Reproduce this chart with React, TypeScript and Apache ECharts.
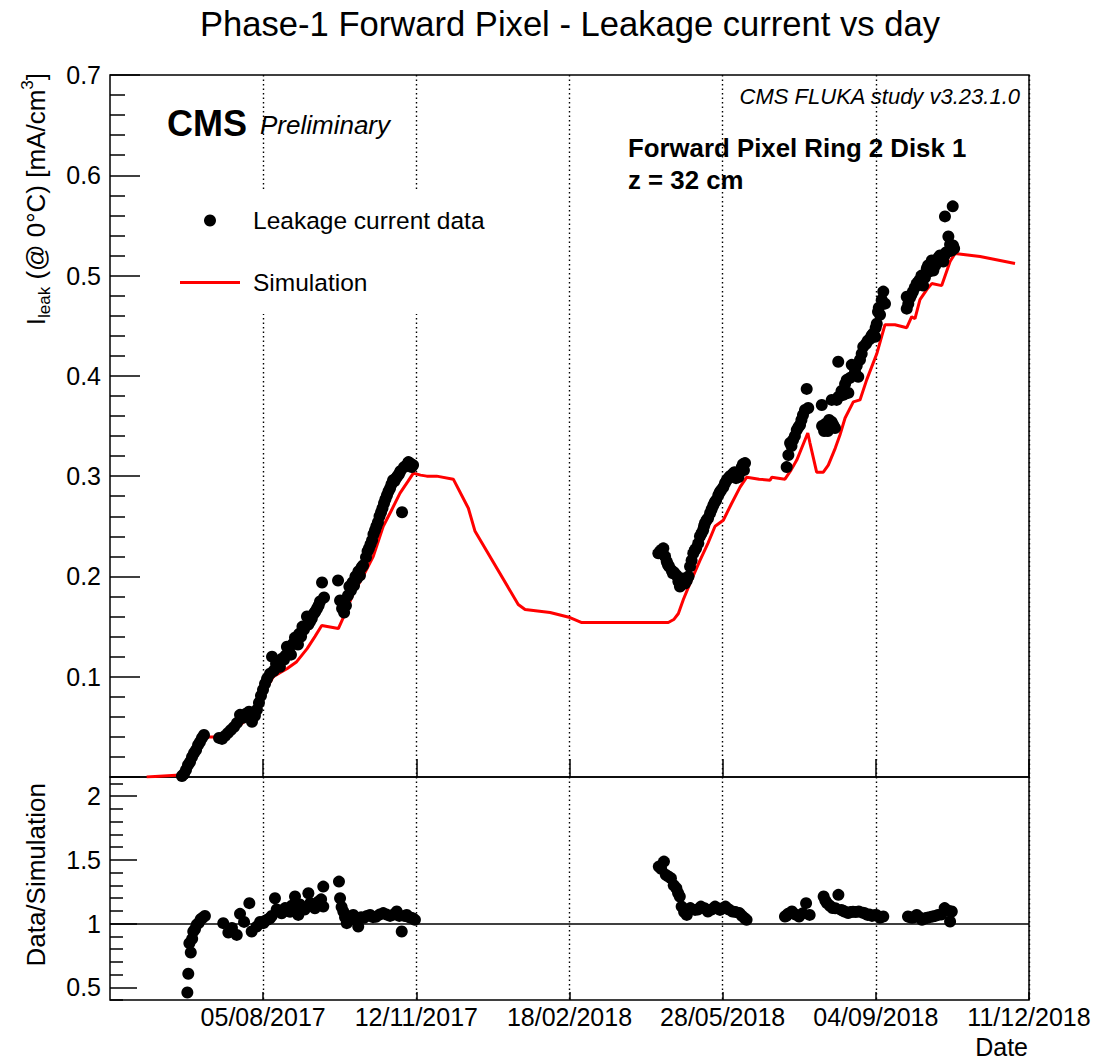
import React, { useEffect, useRef } from "react";
import * as echarts from "echarts";

const FONT = "'Liberation Sans', Arial, Helvetica, sans-serif";

// x values: days since 2017-01-01
const xMinDay = 118.1;
const xMaxDay = 709.7;
const xTickDays = [216.7, 315.3, 413.9, 512.5, 611.1, 709.7];
const xTickLabels = ["05/08/2017", "12/11/2017", "18/02/2018", "28/05/2018", "04/09/2018", "11/12/2018"];

const ratioMajorTicks = [0.5, 1, 1.5, 2];
const ratioMinorTicks = [0.4, 0.6, 0.7, 0.8, 0.9, 1.1, 1.2, 1.3, 1.4, 1.6, 1.7, 1.8, 1.9, 2.1];

const simulation: [number, number][] = [
  [141.7, 0.0], [163.2, 0.002], [166.0, 0.005], [170.0, 0.014], [174.0, 0.026], [178.6, 0.04],
  [187.6, 0.04], [190.0, 0.041], [196.0, 0.045], [202.0, 0.052], [208.0, 0.06], [213.0, 0.068],
  [218.0, 0.086], [223.2, 0.1], [227.5, 0.104], [232.0, 0.108], [238.3, 0.115], [245.0, 0.128],
  [250.0, 0.14], [254.4, 0.151], [265.1, 0.148], [270.0, 0.165], [274.7, 0.183], [281.0, 0.2],
  [287.6, 0.22], [294.0, 0.25], [299.0, 0.265], [304.8, 0.283], [310.0, 0.295], [313.4, 0.303],
  [318.0, 0.301], [322.0, 0.3], [328.4, 0.3], [339.1, 0.297], [348.8, 0.268], [353.1, 0.245],
  [380.9, 0.172], [385.3, 0.167], [401.4, 0.164], [414.2, 0.159], [421.8, 0.154], [477.5, 0.154],
  [481.0, 0.157], [484.0, 0.163], [487.2, 0.177], [492.0, 0.195], [497.9, 0.216], [503.0, 0.233],
  [507.6, 0.25], [512.9, 0.256], [518.0, 0.272], [523.7, 0.289], [528.0, 0.299], [536.0, 0.297],
  [543.0, 0.296], [544.1, 0.299], [552.6, 0.297], [556.5, 0.306], [560.2, 0.316], [567.3, 0.343],
  [568.7, 0.333], [573.0, 0.304], [577.3, 0.304], [580.5, 0.311], [585.0, 0.328], [588.0, 0.341],
  [591.3, 0.358], [596.6, 0.374], [600.9, 0.376], [605.2, 0.396], [611.7, 0.422], [617.0, 0.451],
  [623.4, 0.451], [631.0, 0.448], [634.2, 0.459], [636.3, 0.457], [639.5, 0.476], [643.9, 0.486],
  [647.1, 0.492], [653.5, 0.49], [658.9, 0.514], [662.1, 0.522], [678.2, 0.519], [700.7, 0.512],
];

const leakage2017: [number, number][] = [
  [164.4, 0.001], [165.7, 0.003], [167.0, 0.007], [168.3, 0.012], [169.6, 0.015], [170.9, 0.02],
  [172.2, 0.024], [173.5, 0.027], [174.8, 0.032], [176.0, 0.035], [177.3, 0.039], [178.6, 0.042],
  [188.3, 0.039], [190.2, 0.038], [192.1, 0.041], [194.1, 0.044], [196.0, 0.047], [198.0, 0.05],
  [199.9, 0.054], [201.8, 0.062], [203.7, 0.059], [205.7, 0.063], [207.6, 0.065], [209.5, 0.055],
  [211.4, 0.061], [212.7, 0.067], [214.0, 0.074], [215.3, 0.081], [216.6, 0.087], [217.9, 0.093],
  [219.2, 0.098], [221.1, 0.103], [222.4, 0.12], [225.0, 0.113], [227.5, 0.11], [230.1, 0.117],
  [232.0, 0.13], [234.6, 0.122], [237.2, 0.139], [239.1, 0.132], [241.1, 0.14], [243.0, 0.147],
  [244.9, 0.16], [246.9, 0.155], [249.4, 0.163], [251.4, 0.168], [253.3, 0.175], [254.6, 0.194],
  [255.9, 0.179], [264.9, 0.196], [266.2, 0.176], [267.5, 0.168], [268.8, 0.164], [270.0, 0.171],
  [271.3, 0.181], [273.2, 0.186], [275.2, 0.191], [277.1, 0.198], [279.0, 0.201], [281.0, 0.211],
  [282.9, 0.219], [284.8, 0.228], [286.8, 0.236], [288.7, 0.246], [290.6, 0.254], [292.6, 0.264],
  [294.5, 0.273], [296.4, 0.281], [298.4, 0.288], [300.3, 0.296], [302.2, 0.298], [304.1, 0.302],
  [306.1, 0.264], [307.4, 0.309], [309.3, 0.311], [311.2, 0.313], [313.2, 0.311],
  [223.5, 0.106], [226.2, 0.112], [228.8, 0.118], [231.0, 0.121], [233.3, 0.127], [236.0, 0.133],
  [238.2, 0.136], [240.0, 0.143], [242.0, 0.15], [245.8, 0.152], [248.0, 0.158], [250.3, 0.165],
  [252.4, 0.171], [272.2, 0.19], [274.2, 0.194], [276.1, 0.2], [278.0, 0.205], [280.0, 0.209],
  [283.9, 0.225], [285.8, 0.232], [287.7, 0.242], [289.6, 0.25], [291.6, 0.26], [293.5, 0.268],
  [295.4, 0.277], [297.4, 0.285], [299.3, 0.292], [301.2, 0.295], [303.1, 0.3], [305.0, 0.305],
  [308.4, 0.31], [310.2, 0.314], [312.3, 0.309],
];

const leakage2018: [number, number][] = [
  [471.1, 0.223], [474.3, 0.228], [476.5, 0.215], [478.0, 0.21], [479.7, 0.206], [481.2, 0.204],
  [482.9, 0.201], [485.0, 0.19], [487.0, 0.198], [489.4, 0.196], [491.5, 0.21], [493.6, 0.223],
  [495.4, 0.228], [496.8, 0.233], [497.9, 0.24], [499.9, 0.246], [501.1, 0.253], [503.1, 0.258],
  [504.4, 0.263], [506.5, 0.271], [508.3, 0.276], [509.7, 0.281], [511.5, 0.286], [512.9, 0.289],
  [515.1, 0.296], [517.2, 0.3], [519.4, 0.303], [521.1, 0.298], [522.6, 0.299], [524.8, 0.309],
  [526.2, 0.306], [526.9, 0.313],
  [472.7, 0.226], [475.4, 0.22], [477.2, 0.212], [480.5, 0.203], [484.0, 0.195], [486.0, 0.193],
  [488.2, 0.193], [490.5, 0.2], [492.5, 0.216], [494.5, 0.226], [498.9, 0.243], [500.5, 0.25],
  [502.1, 0.256], [505.4, 0.267], [507.4, 0.274], [510.6, 0.284], [514.0, 0.293], [516.1, 0.298],
  [518.3, 0.301], [520.2, 0.304], [523.7, 0.304], [525.6, 0.312],
  [553.7, 0.309], [554.8, 0.321], [555.9, 0.333], [557.8, 0.336], [560.2, 0.346], [562.3, 0.351],
  [564.2, 0.361], [565.5, 0.366], [566.6, 0.387], [567.6, 0.368], [576.3, 0.371], [576.5, 0.35],
  [577.8, 0.345], [579.5, 0.349], [581.0, 0.356], [582.7, 0.354], [582.7, 0.376], [584.8, 0.348],
  [585.9, 0.376], [586.9, 0.414], [586.9, 0.379], [590.2, 0.381], [592.4, 0.396], [593.4, 0.383],
  [595.6, 0.411], [597.7, 0.404], [599.8, 0.399], [600.9, 0.416], [603.0, 0.429], [604.8, 0.432],
  [607.4, 0.437], [609.3, 0.442], [610.6, 0.439], [611.7, 0.452], [612.5, 0.464], [613.8, 0.461],
  [614.9, 0.476], [615.9, 0.484], [617.0, 0.472],
  [556.8, 0.33], [559.0, 0.34], [561.3, 0.349], [563.2, 0.356], [578.6, 0.352], [580.2, 0.345],
  [583.7, 0.351], [589.0, 0.385], [591.3, 0.392], [594.5, 0.398], [598.8, 0.41], [602.0, 0.422],
  [605.9, 0.435], [608.3, 0.44], [611.0, 0.448], [613.0, 0.468],
  [631.0, 0.479], [631.0, 0.467], [633.1, 0.478], [635.0, 0.484], [637.4, 0.492], [639.5, 0.496],
  [641.5, 0.49], [643.9, 0.507], [645.4, 0.504], [647.1, 0.515], [648.1, 0.505], [650.5, 0.513],
  [652.4, 0.52], [654.5, 0.514], [656.3, 0.523], [657.8, 0.524], [657.8, 0.539], [655.6, 0.559],
  [658.9, 0.531], [659.9, 0.525], [660.6, 0.569], [661.5, 0.527],
  [632.0, 0.472], [634.0, 0.481], [636.2, 0.488], [638.5, 0.494], [640.5, 0.5], [642.7, 0.498],
  [644.7, 0.51], [646.3, 0.511], [649.3, 0.51], [651.4, 0.518], [653.4, 0.517], [655.3, 0.52],
  [660.8, 0.53],
];

const ratio2017: [number, number][] = [
  [167.9, 0.459], [168.5, 0.606], [169.2, 0.846], [170.1, 0.773], [171.0, 0.88], [171.7, 0.937],
  [172.8, 0.955], [173.9, 0.99], [175.2, 1.005], [176.5, 1.034], [177.8, 1.045], [179.2, 1.06],
  [191.0, 1.003], [194.3, 0.929], [196.6, 0.966], [199.7, 0.911], [201.8, 1.076], [204.4, 1.013],
  [207.8, 1.16], [209.3, 0.937], [212.5, 0.976], [214.7, 1.013], [216.8, 1.003], [219.2, 1.029],
  [221.1, 1.042], [224.3, 1.199], [227.5, 1.094], [230.8, 1.121], [234.0, 1.092], [237.2, 1.212],
  [239.3, 1.068], [242.3, 1.123], [245.8, 1.238], [249.0, 1.133], [252.0, 1.17], [255.4, 1.29],
  [255.4, 1.133], [265.5, 1.329], [266.2, 1.199], [268.3, 1.094], [270.5, 1.003], [272.6, 1.045],
  [274.7, 1.068], [277.9, 0.976], [281.6, 1.045], [285.5, 1.068], [289.3, 1.053], [294.0, 1.082],
  [298.4, 1.06], [302.7, 1.094], [305.9, 0.937], [309.1, 1.068], [311.9, 1.045], [314.4, 1.029],
  [217.8, 1.02], [220.1, 1.035], [222.2, 1.06], [225.4, 1.11], [228.6, 1.08], [231.9, 1.1],
  [235.1, 1.14], [238.2, 1.1], [240.3, 1.15], [243.4, 1.11], [247.0, 1.16], [250.0, 1.12],
  [253.1, 1.15], [254.0, 1.19], [267.2, 1.13], [269.4, 1.05], [271.5, 1.02], [273.6, 1.06],
  [276.0, 1.03], [279.8, 1.05], [283.5, 1.06], [287.4, 1.05], [291.6, 1.07], [296.2, 1.07],
  [300.5, 1.07], [304.3, 1.06], [307.5, 1.06], [310.5, 1.05], [313.2, 1.04],
];

const ratio2018: [number, number][] = [
  [471.4, 1.447], [474.7, 1.486], [475.9, 1.382], [479.2, 1.356], [482.7, 1.277], [484.9, 1.212],
  [486.1, 1.133], [489.4, 1.068], [491.7, 1.121], [494.7, 1.107], [498.5, 1.133], [503.0, 1.094],
  [507.6, 1.133], [510.8, 1.107], [514.3, 1.133], [518.8, 1.094], [523.3, 1.082], [526.7, 1.042],
  [527.9, 1.029], [552.6, 1.055], [554.5, 1.076], [557.1, 1.094], [561.7, 1.055], [566.2, 1.16],
  [568.5, 1.068], [577.5, 1.212], [579.7, 1.16], [583.2, 1.121], [587.0, 1.225], [588.8, 1.107],
  [591.3, 1.092], [593.3, 1.082], [596.4, 1.092], [600.1, 1.094], [602.8, 1.084], [605.7, 1.068],
  [608.6, 1.06], [611.4, 1.068], [613.8, 1.045], [615.9, 1.055], [631.8, 1.055], [634.4, 1.045],
  [637.4, 1.068], [640.8, 1.029], [644.1, 1.045], [647.6, 1.055], [651.1, 1.068], [655.4, 1.121],
  [660.0, 1.094], [658.9, 1.016],
  [472.9, 1.43], [477.5, 1.37], [481.0, 1.3], [483.8, 1.24], [487.7, 1.09], [496.5, 1.11],
  [500.8, 1.12], [505.3, 1.11], [509.2, 1.12], [512.5, 1.12], [516.5, 1.11], [520.9, 1.09],
  [525.0, 1.06], [553.5, 1.06], [555.8, 1.08], [559.4, 1.07], [564.0, 1.08], [578.6, 1.18],
  [581.5, 1.14], [585.0, 1.12], [590.0, 1.1], [594.8, 1.09], [598.2, 1.09], [604.2, 1.08],
  [607.1, 1.07], [610.0, 1.065], [632.9, 1.05], [636.0, 1.05], [639.0, 1.05], [642.5, 1.04],
  [645.8, 1.05], [649.4, 1.06], [653.2, 1.07], [657.8, 1.1],
];

const ratioReference = 1;

function xLabel(v: number): string {
  let best = 0;
  for (let i = 1; i < xTickDays.length; i++) {
    if (Math.abs(xTickDays[i] - v) < Math.abs(xTickDays[best] - v)) best = i;
  }
  return xTickLabels[best];
}

const tickLine = { color: "#000", width: 1.5 };
const dotted = { color: "#000", width: 1.4, type: [1.5, 3] as number[] };

export default function App() {
  const ref = useRef<HTMLDivElement>(null);
  useEffect(() => {
    if (!ref.current) return;
    const chart = echarts.init(ref.current, null, { renderer: "svg" });
    const option: any = {
      animation: false,
      textStyle: { fontFamily: FONT },
      grid: [
        { left: 110, top: 75, width: 919, height: 702, show: true, borderColor: "#000", borderWidth: 1.5 },
        { left: 110, top: 777, width: 919, height: 223, show: true, borderColor: "#000", borderWidth: 1.5 },
      ],
      legend: {
        data: [
          { name: "Leakage current data", icon: "circle" },
          { name: "Simulation", icon: "path://M0 0 H60 V3 H0 Z" },
        ],
        orient: "vertical",
        left: 150,
        top: 190,
        padding: [18, 15, 19, 30],
        itemWidth: 60,
        itemHeight: 12,
        itemGap: 37,
        backgroundColor: "#fff",
        selectedMode: false,
        textStyle: { fontSize: 24.5, color: "#000", fontFamily: FONT, padding: [0, 0, 0, 8], lineHeight: 24 },
      },
      xAxis: [
        {
          type: "value", gridIndex: 0, min: xMinDay, max: xMaxDay,
          axisLine: { show: false },
          axisTick: { show: true, inside: true, length: 18, customValues: xTickDays, lineStyle: tickLine },
          axisLabel: { show: false, customValues: xTickDays },
          splitLine: { show: true, lineStyle: dotted },
        },
        {
          type: "value", gridIndex: 1, min: xMinDay, max: xMaxDay,
          axisLine: { show: false },
          axisTick: { show: true, inside: true, length: 8, customValues: xTickDays, lineStyle: tickLine },
          axisLabel: { show: true, customValues: xTickDays, formatter: xLabel, fontSize: 25, color: "#000", margin: 4, fontFamily: FONT },
          splitLine: { show: true, lineStyle: dotted },
        },
      ],
      yAxis: [
        {
          type: "value", gridIndex: 0, position: "left", min: 0, max: 0.7, interval: 0.1,
          axisLine: { show: false },
          axisTick: { show: true, inside: true, length: 30, lineStyle: tickLine },
          minorTick: { show: true, splitNumber: 5, length: 15, lineStyle: tickLine },
          axisLabel: { fontSize: 25, color: "#000", margin: 9, showMinLabel: false, fontFamily: FONT, formatter: (v: number) => v.toFixed(1) },
          splitLine: { show: false },
        },
        {
          type: "value", gridIndex: 1, position: "left", offset: 0, min: 0.4, max: 2.15,
          axisLine: { show: false },
          axisTick: { show: true, inside: true, length: 13, customValues: ratioMinorTicks, lineStyle: tickLine },
          axisLabel: { show: false },
          splitLine: { show: false },
        },
        {
          type: "value", gridIndex: 1, position: "left", offset: 0, min: 0.4, max: 2.15,
          axisLine: { show: false },
          axisTick: { show: true, inside: true, length: 27, customValues: ratioMajorTicks, lineStyle: tickLine },
          axisLabel: { show: true, customValues: ratioMajorTicks, fontSize: 25, color: "#000", margin: 9, fontFamily: FONT, formatter: (v: number) => String(v) },
          splitLine: { show: false },
        },
      ],
      series: [
        {
          name: "Simulation", type: "line", xAxisIndex: 0, yAxisIndex: 0, data: simulation,
          symbol: "none", showSymbol: false, lineStyle: { color: "#ff0000", width: 3 }, itemStyle: { color: "#ff0000" }, z: 2,
        },
        {
          name: "Leakage current data", type: "scatter", xAxisIndex: 0, yAxisIndex: 0,
          data: [...leakage2017, ...leakage2018], symbol: "circle", symbolSize: 12, itemStyle: { color: "#000", opacity: 1 }, z: 3,
        },
        {
          name: "ratio", type: "scatter", xAxisIndex: 1, yAxisIndex: 2,
          data: [...ratio2017, ...ratio2018], symbol: "circle", symbolSize: 12, itemStyle: { color: "#000", opacity: 1 }, z: 3,
          markLine: {
            silent: true, symbol: ["none", "none"], z: 1, label: { show: false },
            lineStyle: { color: "#000", width: 1.5, type: "solid" },
            data: [{ yAxis: ratioReference }],
          },
        },
      ],
      graphic: [
        { type: "text", x: 570, y: 24, style: { text: "Phase-1 Forward Pixel - Leakage current vs day", fontSize: 34.6, fontFamily: FONT, fill: "#000", align: "center", verticalAlign: "middle" } },
        { type: "text", x: 167, y: 123, style: { text: "CMS", fontSize: 36, fontWeight: "bold", fontFamily: FONT, fill: "#000", align: "left", verticalAlign: "middle" } },
        { type: "text", x: 260, y: 125, style: { text: "Preliminary", fontSize: 26, fontStyle: "italic", fontFamily: FONT, fill: "#000", align: "left", verticalAlign: "middle" } },
        { type: "text", x: 1020, y: 96, style: { text: "CMS FLUKA study v3.23.1.0", fontSize: 22, fontStyle: "italic", fontFamily: FONT, fill: "#000", align: "right", verticalAlign: "middle" } },
        { type: "text", x: 628, y: 148, style: { text: "Forward Pixel Ring 2 Disk 1", fontSize: 25.8, fontWeight: "bold", fontFamily: FONT, fill: "#000", align: "left", verticalAlign: "middle" } },
        { type: "text", x: 628, y: 180, style: { text: "z = 32 cm", fontSize: 25.8, fontWeight: "bold", fontFamily: FONT, fill: "#000", align: "left", verticalAlign: "middle" } },
        { type: "text", x: 1028, y: 1047, style: { text: "Date", fontSize: 25, fontFamily: FONT, fill: "#000", align: "right", verticalAlign: "middle" } },
        {
          type: "text", x: 36, y: 73, rotation: Math.PI / 2,
          style: {
            text: "{n|I}{s|leak}{n| (@ 0°C) [mA/cm}{p|3}{n|]}",
            align: "right", verticalAlign: "middle", fill: "#000",
            rich: {
              n: { fontSize: 26, fontFamily: FONT, fill: "#000", lineHeight: 34, verticalAlign: "middle" },
              s: { fontSize: 17, fontFamily: FONT, fill: "#000", lineHeight: 17, verticalAlign: "bottom" },
              p: { fontSize: 17, fontFamily: FONT, fill: "#000", lineHeight: 17, verticalAlign: "top" },
            },
          },
        },
        { type: "text", x: 36, y: 783, rotation: Math.PI / 2, style: { text: "Data/Simulation", fontSize: 26, fontFamily: FONT, fill: "#000", align: "right", verticalAlign: "middle" } },
      ],
    };
    chart.setOption(option);
    return () => chart.dispose();
  }, []);
  return <div ref={ref} style={{ position: "absolute", left: 0, top: 0, width: 1100, height: 1060 }} />;
}
